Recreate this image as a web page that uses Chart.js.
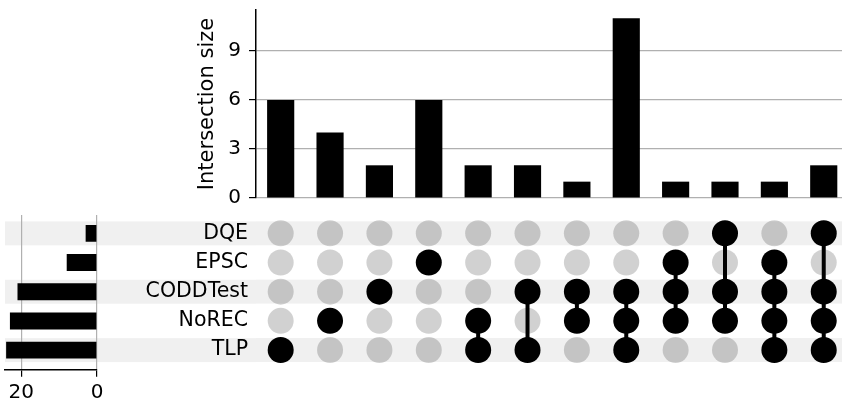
<!DOCTYPE html>
<html><head><meta charset="utf-8">
<script src="https://cdn.jsdelivr.net/npm/chart.js@4.4.1/dist/chart.umd.min.js"></script>
<style>
html,body{margin:0;padding:0;background:#fff;width:842px;height:405px;overflow:hidden}
canvas{position:absolute}
#left{left:0;top:210px}
#matrix{left:0;top:210px}
#bars{left:0;top:0}
</style></head><body>
<canvas id="left" width="256" height="195"></canvas>
<canvas id="matrix" width="842" height="160"></canvas>
<canvas id="bars" width="842" height="210"></canvas>
<script>
// ---- data ----
const setNames = ['DQE', 'EPSC', 'CODDTest', 'NoREC', 'TLP'];
const setSizes = [3, 8, 21, 23, 24];
const intersectionSizes = [6, 4, 2, 6, 2, 2, 1, 11, 1, 1, 1, 2];
const intersectionMembers = [
  ['TLP'],
  ['NoREC'],
  ['CODDTest'],
  ['EPSC'],
  ['NoREC', 'TLP'],
  ['CODDTest', 'TLP'],
  ['CODDTest', 'NoREC'],
  ['CODDTest', 'NoREC', 'TLP'],
  ['EPSC', 'CODDTest', 'NoREC'],
  ['DQE', 'CODDTest', 'NoREC'],
  ['EPSC', 'CODDTest', 'NoREC', 'TLP'],
  ['DQE', 'CODDTest', 'NoREC', 'TLP']
];
const intersectionTicks = [0, 3, 6, 9];
const setSizeTicks = [20, 0];

// ---- style ----
Chart.defaults.font.family = "'DejaVu Sans', sans-serif";
Chart.defaults.font.size = 17;
Chart.defaults.color = '#000';
Chart.defaults.animation = false;
const GRID = '#b0b0b0';
const STRIPE = '#f0f0f0';
const LABELFONT = {family: "'DejaVu Sans', sans-serif", size: 20.5};
const TICKFONT = {family: "'DejaVu Sans', sans-serif", size: 20};
const TITLEFONT = {family: "'DejaVu Sans', sans-serif", size: 21};

const colRange = {min: -0.5, max: 11.37};
const rowTicks = s => { s.ticks = setNames.map((n, i) => ({value: i})); };
const colTicks = s => { s.ticks = intersectionSizes.map((v, i) => ({value: i})); };

function stripePlugin() {
  return {
    id: 'stripes',
    beforeDraw(chart) {
      const ys = chart.scales.y;
      const ctx = chart.ctx;
      const step = Math.abs(ys.getPixelForValue(1) - ys.getPixelForValue(0));
      const h = step * 0.82;
      ctx.save();
      ctx.fillStyle = STRIPE;
      setNames.forEach((n, i) => {
        if (i % 2 === 0) {
          const y = ys.getPixelForValue(i);
          const x0 = chart.chartArea.left;
          ctx.fillRect(x0, y - h / 2, chart.width - x0, h);
        }
      });
      ctx.restore();
    }
  };
}

// ---- top: intersection size bars ----
new Chart(document.getElementById('bars'), {
  type: 'bar',
  data: {
    datasets: [{
      data: intersectionSizes.map((v, i) => ({x: i, y: v})),
      backgroundColor: '#000',
      borderWidth: 0,
      barPercentage: 0.55,
      categoryPercentage: 1
    }]
  },
  options: {
    responsive: false,
    layout: {autoPadding: false, padding: {left: 195, top: 10, right: 0, bottom: 12}},
    plugins: {legend: {display: false}, tooltip: {enabled: false}},
    scales: {
      x: {type: 'linear', offset: false, min: colRange.min, max: colRange.max, display: false, afterBuildTicks: colTicks},
      y: {
        min: 0, max: 11.5,
        afterBuildTicks: s => { s.ticks = intersectionTicks.map(v => ({value: v})); },
        afterFit: s => { s.width = 61; s.paddingTop = 0; s.paddingBottom = 0; },
        ticks: {font: TICKFONT, color: '#000', padding: 8},
        grid: {color: GRID, lineWidth: 1.2, tickLength: 7, tickColor: '#000', tickWidth: 1.2},
        border: {display: true, color: '#000', width: 1.5},
        title: {display: true, text: 'Intersection size', font: TITLEFONT, color: '#000', padding: {top: 0, bottom: 0}}
      }
    }
  }
});

// ---- left: set size bars ----
new Chart(document.getElementById('left'), {
  type: 'bar',
  data: {
    datasets: [{
      data: setSizes.map((v, i) => ({x: v, y: i})),
      backgroundColor: '#000',
      borderWidth: 0,
      barPercentage: 0.58,
      categoryPercentage: 1
    }]
  },
  options: {
    responsive: false,
    indexAxis: 'y',
    layout: {autoPadding: false, padding: {left: 5, right: 159, top: 5, bottom: 0.3}},
    plugins: {legend: {display: false}, tooltip: {enabled: false}},
    scales: {
      x: {
        type: 'linear', reverse: true, min: 0, max: 24.3, z: 1,
        afterBuildTicks: s => { s.ticks = setSizeTicks.map(v => ({value: v})); },
        afterFit: s => { s.height = 35; s.paddingLeft = 0; s.paddingRight = 0; },
        ticks: {font: TICKFONT, color: '#000', padding: 4, maxRotation: 0},
        grid: {color: GRID, lineWidth: 1.2, tickLength: 7, tickColor: '#000', tickWidth: 1.2},
        border: {display: true, color: '#000', width: 1.5}
      },
      y: {type: 'linear', offset: false, reverse: true, min: -0.63, max: 4.67, display: false, afterBuildTicks: rowTicks}
    }
  },
  plugins: [stripePlugin()]
});

// ---- matrix ----
const greyDots = [];
const blackDots = [];
const connectors = [];
intersectionMembers.forEach((members, c) => {
  const rows = members.map(m => setNames.indexOf(m));
  setNames.forEach((n, r) => {
    (rows.includes(r) ? blackDots : greyDots).push({x: c, y: r});
  });
  if (rows.length > 1) {
    connectors.push({
      type: 'line',
      data: [{x: c, y: Math.min(...rows)}, {x: c, y: Math.max(...rows)}],
      borderColor: '#000',
      borderWidth: 4,
      pointRadius: 0,
      order: 2
    });
  }
});

new Chart(document.getElementById('matrix'), {
  type: 'scatter',
  data: {
    datasets: [
      {data: greyDots, backgroundColor: 'rgba(0,0,0,0.18)', borderWidth: 0, pointRadius: 13, order: 3},
      ...connectors,
      {data: blackDots, backgroundColor: '#000', borderWidth: 0, pointRadius: 13, order: 1}
    ]
  },
  options: {
    responsive: false,
    layout: {autoPadding: false, padding: {left: 0, right: 0, top: 8.7, bottom: 5.4}},
    plugins: {legend: {display: false}, tooltip: {enabled: false}},
    scales: {
      x: {type: 'linear', offset: false, min: colRange.min, max: colRange.max, display: false},
      y: {
        type: 'linear', offset: false, reverse: true, min: -0.5, max: 4.5,
        afterBuildTicks: rowTicks,
        afterFit: s => { s.width = 256; s.paddingTop = 0; s.paddingBottom = 0; },
        ticks: {font: LABELFONT, color: '#000', padding: 8, callback: v => setNames[v]},
        grid: {display: false, drawTicks: false},
        border: {display: false}
      }
    }
  },
  plugins: [stripePlugin()]
});
</script>
</body></html>
